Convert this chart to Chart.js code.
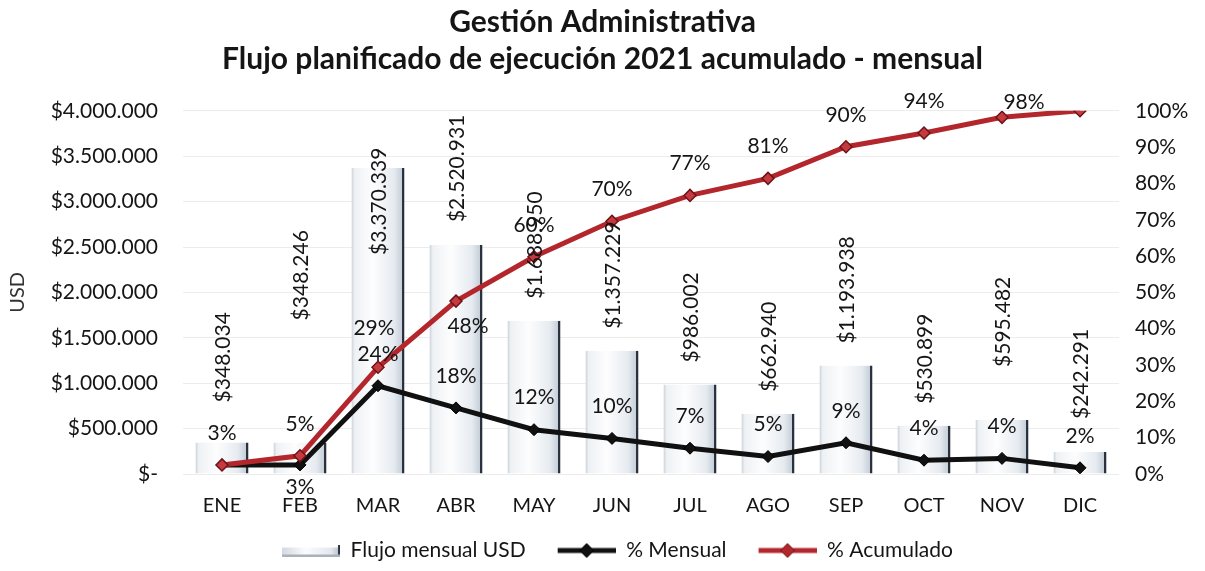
<!DOCTYPE html>
<html>
<head>
<meta charset="utf-8">
<script src="https://cdn.jsdelivr.net/npm/chart.js@4.4.1/dist/chart.umd.min.js"></script>
<style>
  html, body { margin: 0; padding: 0; background: #fff; }
  #wrap { width: 1205px; height: 571px; }
</style>
</head>
<body>
<div id="wrap"><canvas id="flujoChart" width="1205" height="571"></canvas></div>
<script>
const meses = ['ENE', 'FEB', 'MAR', 'ABR', 'MAY', 'JUN', 'JUL', 'AGO', 'SEP', 'OCT', 'NOV', 'DIC'];
const flujoMensual = [348034, 348246, 3370339, 2520931, 1688950, 1357229, 986002, 662940, 1193938, 530899, 595482, 242291];
const pctMensual = [2.5, 2.5, 24.3, 18.2, 12.2, 9.8, 7.1, 4.8, 8.6, 3.8, 4.3, 1.7];
const pctAcumulado = [2.5, 5.0, 29.4, 47.6, 59.8, 69.6, 76.7, 81.4, 90.1, 93.9, 98.2, 100];
const usdTicks = [0, 500000, 1000000, 1500000, 2000000, 2500000, 3000000, 3500000, 4000000];

const FONT = 'Lato, "Liberation Sans", sans-serif';

function usd(n) {
    if (n === 0) return '$-';
    return '$' + String(n).replace(/\B(?=(\d{3})+(?!\d))/g, '.');
}

// little canvases used as legend swatches (left part left blank as spacing)
const PAD = 30;
function barSwatch() {
    const c = document.createElement('canvas');
    c.width = 58 + PAD; c.height = 12;
    const g = c.getContext('2d');
    const grad = g.createLinearGradient(PAD, 0, PAD + 58, 0);
    grad.addColorStop(0, '#d3d9e0');
    grad.addColorStop(0.4, '#fbfcfd');
    grad.addColorStop(0.85, '#e3e8ee');
    grad.addColorStop(1, '#b3bdc8');
    g.fillStyle = grad;
    g.fillRect(PAD, 3, 58, 9);
    g.fillStyle = '#2a3340';
    g.fillRect(PAD + 56, 0, 2, 12);
    g.fillStyle = '#a9b1bb';
    g.fillRect(PAD, 10, 58, 2);
    return c;
}

function lineSwatch(color, edge) {
    const c = document.createElement('canvas');
    c.width = 58 + PAD; c.height = 16;
    const g = c.getContext('2d');
    g.strokeStyle = color;
    g.lineWidth = 5;
    g.beginPath(); g.moveTo(PAD, 8); g.lineTo(PAD + 58, 8); g.stroke();
    g.fillStyle = color;
    g.strokeStyle = edge;
    g.lineWidth = 1;
    const m = PAD + 29;
    g.beginPath();
    g.moveTo(m, 1); g.lineTo(m + 7, 8); g.lineTo(m, 15); g.lineTo(m - 7, 8); g.closePath();
    g.fill(); g.stroke();
    return c;
}

function barFill(context) {
    const chart = context.chart;
    const x = chart.scales.x;
    if (!x || context.dataIndex === undefined) return '#eef1f4';
    const cx = x.getPixelForValue(context.dataIndex);
    const half = (x.width / meses.length) * 0.68 / 2;
    const grad = chart.ctx.createLinearGradient(cx - half, 0, cx + half, 0);
    grad.addColorStop(0, '#c9d0d8');
    grad.addColorStop(0.06, '#eef1f4');
    grad.addColorStop(0.4, '#fdfdfe');
    grad.addColorStop(0.8, '#e6ebf0');
    grad.addColorStop(1, '#bcc6d1');
    return grad;
}

// data labels, drawn at the elements the library placed
const etiquetas = {
    id: 'etiquetas',
    afterDatasetsDraw(chart, args, opts) {
        const ctx = chart.ctx;
        ctx.save();
        ctx.font = '21px ' + FONT;
        ctx.fillStyle = '#151515';

        chart.getDatasetMeta(0).data.forEach((bar, i) => {
            const lift = opts.barLift[i] !== undefined ? opts.barLift[i] : 22;
            ctx.save();
            ctx.translate(bar.x + 1, bar.y - lift);
            ctx.rotate(-Math.PI / 2);
            ctx.textAlign = 'left';
            ctx.textBaseline = 'middle';
            ctx.fillText(usd(flujoMensual[i]), 0, 0);
            ctx.restore();
        });

        ctx.textAlign = 'center';
        ctx.textBaseline = 'middle';
        [[1, pctMensual], [2, pctAcumulado]].forEach(([ds, vals]) => {
            chart.getDatasetMeta(ds).data.forEach((pt, i) => {
                const n = opts.nudge[ds + ':' + i];
                if (n === null) return;
                const dx = n ? n[0] : 0;
                const dy = n ? n[1] : -32;
                ctx.fillText(Math.round(vals[i]) + '%', pt.x + dx, pt.y + dy);
            });
        });
        ctx.restore();
    }
};

new Chart(document.getElementById('flujoChart'), {
    type: 'bar',
    data: {
        labels: meses,
        datasets: [
            {
                type: 'bar',
                label: 'Flujo mensual USD',
                data: flujoMensual,
                yAxisID: 'y',
                backgroundColor: barFill,
                borderColor: '#27303c',
                borderWidth: { left: 0, right: 2.5, top: 0, bottom: 0 },
                borderSkipped: false,
                barPercentage: 0.68,
                categoryPercentage: 1,
                order: 3
            },
            {
                type: 'line',
                label: '% Mensual',
                data: pctMensual,
                yAxisID: 'y2',
                borderColor: '#111111',
                backgroundColor: '#111111',
                borderWidth: 5,
                pointStyle: 'rectRot',
                pointRadius: 6,
                pointBorderWidth: 1,
                pointBackgroundColor: '#111111',
                pointBorderColor: '#000000',
                tension: 0,
                order: 2
            },
            {
                type: 'line',
                label: '% Acumulado',
                data: pctAcumulado,
                yAxisID: 'y2',
                borderColor: '#b3262c',
                backgroundColor: '#b3262c',
                borderWidth: 5,
                pointStyle: 'rectRot',
                pointRadius: 6,
                pointBorderWidth: 1.5,
                pointBackgroundColor: '#c43a40',
                pointBorderColor: '#6e1416',
                tension: 0,
                order: 1
            }
        ]
    },
    options: {
        responsive: false,
        animation: false,
        layout: { padding: { left: 0, right: 0, top: 4, bottom: 0 } },
        scales: {
            x: {
                grid: { display: false, drawTicks: false },
                border: { display: false },
                ticks: { color: '#151515', font: { family: FONT, size: 20 }, padding: 20 }
            },
            y: {
                position: 'left',
                min: 0,
                max: 4000000,
                afterBuildTicks: s => { s.ticks = usdTicks.map(v => ({ value: v })); },
                afterFit: s => { s.width = 183; },
                grid: { color: '#ececec', drawTicks: false },
                border: { display: false },
                ticks: {
                    color: '#151515',
                    padding: 25,
                    font: { family: FONT, size: 21 },
                    callback: v => usd(v)
                },
                title: {
                    display: true,
                    text: 'USD',
                    color: '#333',
                    font: { family: FONT, size: 20 },
                    padding: { top: 6, bottom: 0 }
                }
            },
            y2: {
                position: 'right',
                min: 0,
                max: 100,
                afterFit: s => { s.width = 86; },
                grid: { drawOnChartArea: false, drawTicks: false },
                border: { display: false },
                ticks: {
                    stepSize: 10,
                    color: '#151515',
                    padding: 16,
                    font: { family: FONT, size: 21 },
                    callback: v => v + '%'
                }
            }
        },
        plugins: {
            title: {
                display: true,
                text: ['Gestión Administrativa', 'Flujo planificado de ejecución 2021 acumulado - mensual'],
                color: '#151515',
                font: { family: FONT, size: 30, weight: 'bold', lineHeight: 1.23 },
                padding: { top: 0, bottom: 33 }
            },
            legend: {
                position: 'bottom',
                labels: {
                    color: '#151515',
                    font: { family: FONT, size: 21 },
                    usePointStyle: true,
                    pointStyleWidth: 58 + PAD,
                    padding: 2,
                    sort: (a, b) => a.datasetIndex - b.datasetIndex,
                    generateLabels: chart => {
                        const styles = [barSwatch(), lineSwatch('#111111', '#000'), lineSwatch('#b3262c', '#6e1416')];
                        return chart.data.datasets.map((d, i) => ({
                            text: d.label,
                            pointStyle: styles[i],
                            fontColor: '#151515',
                            lineWidth: 0,
                            hidden: false,
                            datasetIndex: i
                        }));
                    }
                }
            },
            tooltip: { enabled: false },
            etiquetas: {
                barLift: { 0: 40, 1: 122, 2: -87, 3: 23, 10: 53, 11: 33 },
                nudge: {
                    '2:0': null,
                    '2:11': null,
                    '1:1': [0, 22],
                    '2:2': [-4, -39],
                    '2:3': [12, 25],
                    '2:10': [22, -15]
                }
            }
        }
    },
    plugins: [etiquetas]
});
</script>
</body>
</html>
